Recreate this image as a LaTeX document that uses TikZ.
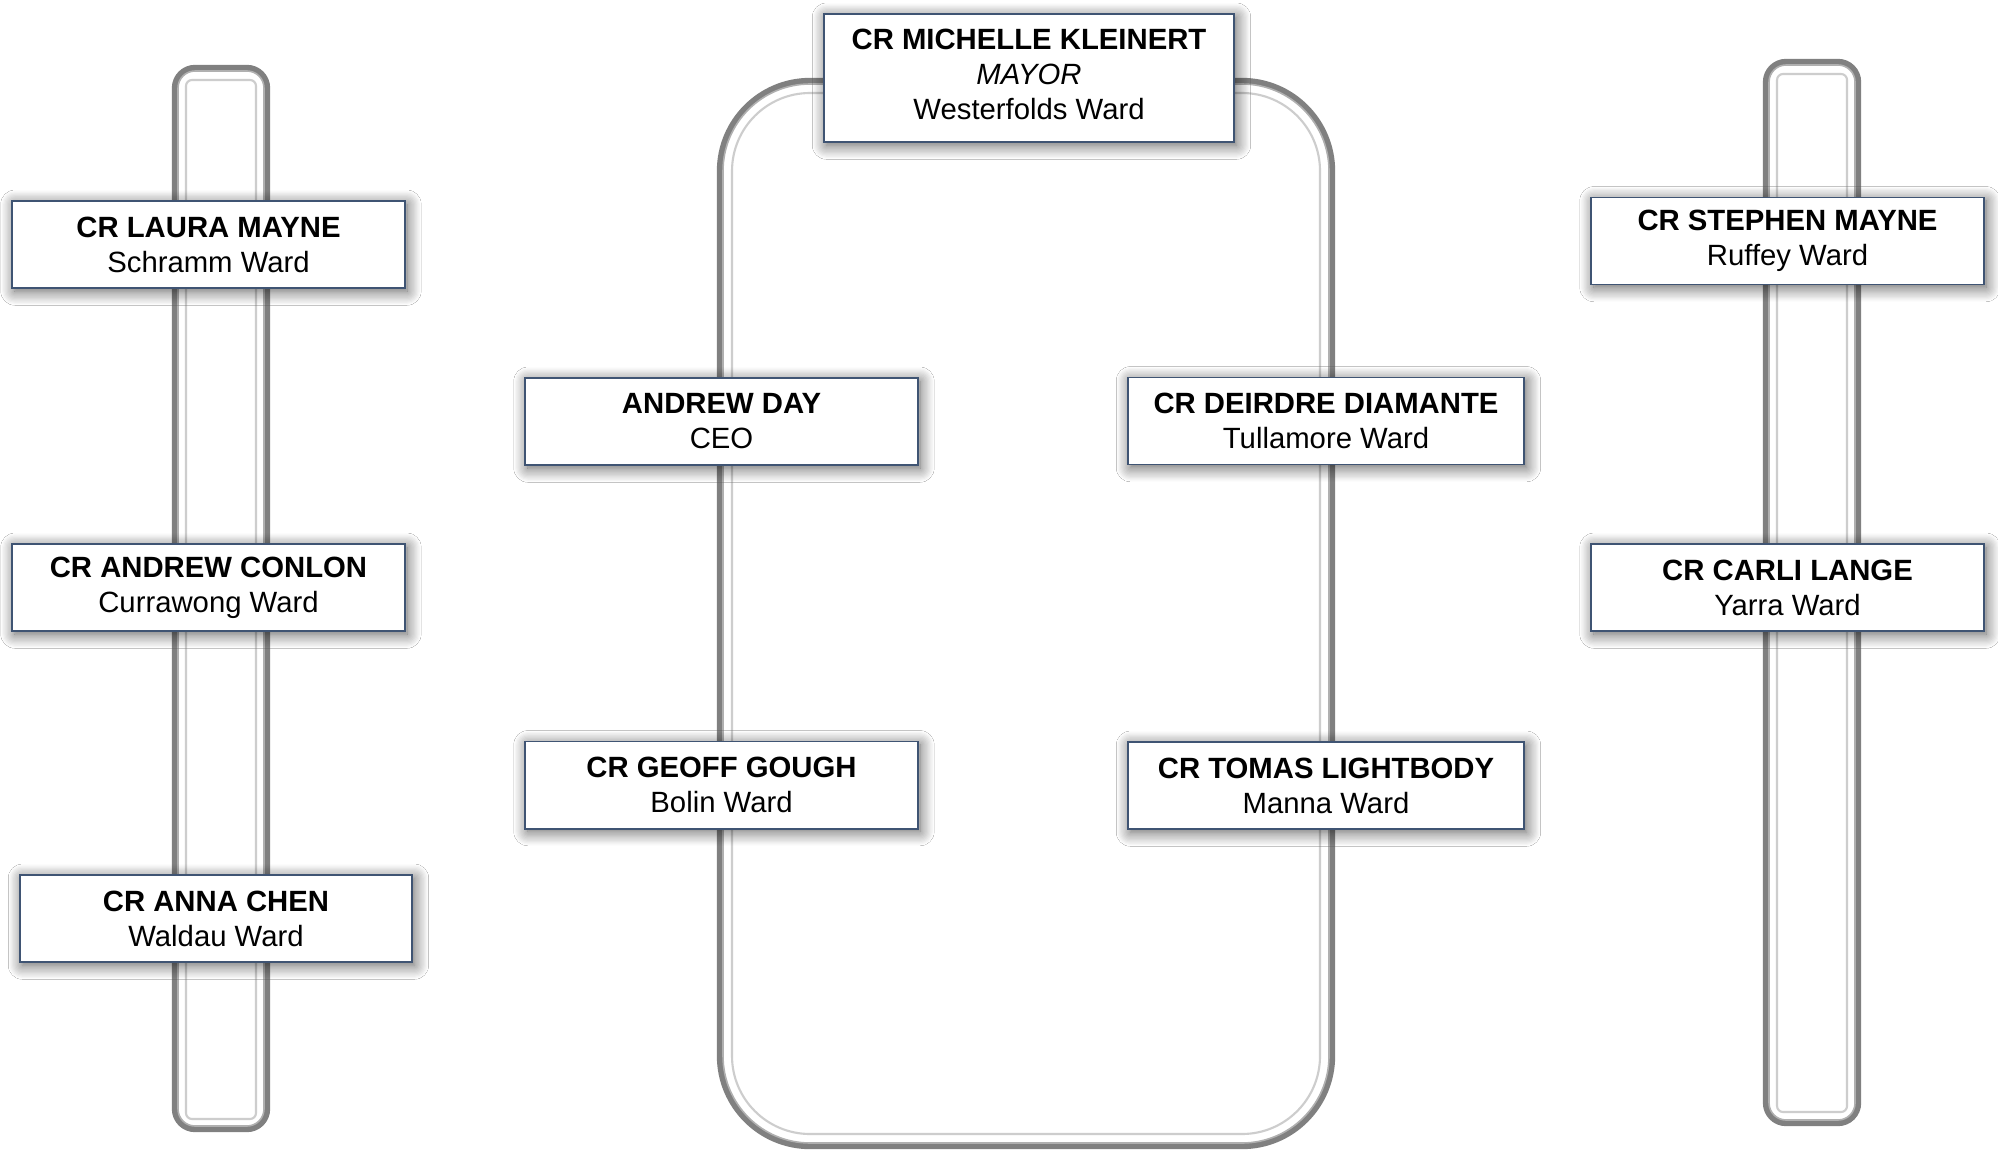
\documentclass[tikz,border=0pt]{standalone}
\usepackage{fontspec}
\setmainfont{Liberation Sans}
\usetikzlibrary{shadows.blur}
\definecolor{boxline}{HTML}{3F5473}
\definecolor{pipe}{HTML}{808080}
\definecolor{pipehi}{HTML}{B0B0B0}
\definecolor{pipein}{HTML}{CDCDCD}
\begin{document}
\begin{tikzpicture}[x=0.01cm,y=-0.01cm,
  pipeouter/.style={draw=pipe,line width=1.8pt},
  pipehigh/.style={draw=pipehi,line width=0.45pt},
  pipeinner/.style={draw=pipein,line width=0.6pt},
  person/.style={draw=boxline,line width=0.55pt,fill=white,
    minimum width=3.92cm,minimum height=0.87cm,align=center,inner sep=0pt,
    font=\fontsize{8.33}{9.96}\selectfont,
    blur shadow={shadow xshift=0.7pt,shadow yshift=-0.9pt,shadow blur radius=4pt,shadow blur steps=12,shadow opacity=65}}]
\fill[white] (0,0) rectangle (1998,1152);
\useasboundingbox (0,0) rectangle (1998,1152);
% left bar
\draw[pipeouter,rounded corners=0.2cm] (175,68) rectangle (267,1129);
\draw[pipehigh,rounded corners=0.17cm] (178,71) rectangle (264,1126);
\draw[pipeinner,rounded corners=0.06cm] (186,80) rectangle (256,1119);
% right bar
\draw[pipeouter,rounded corners=0.2cm] (1766,62) rectangle (1858,1123);
\draw[pipehigh,rounded corners=0.17cm] (1769,65) rectangle (1855,1120);
\draw[pipeinner,rounded corners=0.06cm] (1777,74) rectangle (1847,1112);
% centre loop
\draw[pipeouter,rounded corners=0.9cm] (720,81) rectangle (1332,1146);
\draw[pipehigh,rounded corners=0.87cm] (723,84) rectangle (1329,1143);
\draw[pipeinner,rounded corners=0.78cm] (732,93) rectangle (1320,1134);
% people
\node[person,minimum width=4.1cm,minimum height=1.28cm] (mayor) at (1029,78)
  {\textbf{CR MICHELLE KLEINERT}\\\textit{MAYOR}\\Westerfolds Ward\rule[-2.2pt]{0pt}{0pt}};
\node[person] (laura) at (208.5,244.5) {\textbf{CR LAURA MAYNE}\\Schramm Ward};
\node[person] (conlon) at (208.5,587.5) {\textbf{CR ANDREW CONLON}\\Currawong Ward};
\node[person] (chen) at (216,918.5) {\textbf{CR ANNA CHEN}\\Waldau Ward};
\node[person] (day) at (721.5,421.5) {\textbf{ANDREW DAY}\\CEO};
\node[person] (gough) at (721.5,785) {\textbf{CR GEOFF GOUGH}\\Bolin Ward};
\node[person,minimum width=3.96cm] (diamante) at (1326,421) {\textbf{CR DEIRDRE DIAMANTE}\\Tullamore Ward};
\node[person,minimum width=3.96cm] (lightbody) at (1326,785.5) {\textbf{CR TOMAS LIGHTBODY}\\Manna Ward};
\node[person] (stephen) at (1787.5,241) {\textbf{CR STEPHEN MAYNE}\\Ruffey Ward};
\node[person] (lange) at (1787.5,587.5) {\textbf{CR CARLI LANGE}\\Yarra Ward};
\end{tikzpicture}
\end{document}
